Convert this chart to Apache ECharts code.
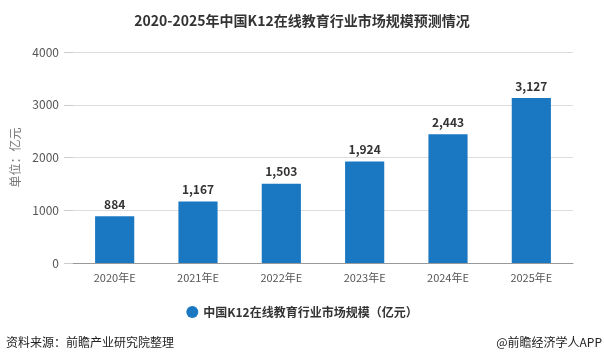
<!DOCTYPE html>
<html><head><meta charset="utf-8">
<script src="https://cdn.jsdelivr.net/npm/echarts@6/dist/echarts.min.js"></script>
<style>html,body{margin:0;padding:0;background:#fff}#c{width:604px;height:363px}</style>
</head><body><div id="c"></div>
<script>
var categories = ['2020年E','2021年E','2022年E','2023年E','2024年E','2025年E'];
var values = [884, 1167, 1503, 1924, 2443, 3127];
var yTicks = [0, 1000, 2000, 3000, 4000];
var seriesName = '中国K12在线教育行业市场规模（亿元）';
var titleText = '2020-2025年中国K12在线教育行业市场规模预测情况';
var sourceText = '资料来源：前瞻产业研究院整理';
var creditText = '@前瞻经济学人APP';
var unitText = '单位：亿元';

var chart = echarts.init(document.getElementById('c'));
var font = '"Microsoft YaHei","Noto Sans CJK SC",sans-serif';
chart.setOption({
  animation: false,
  textStyle: {fontFamily: font},
  title: {text: titleText, left: 'center', top: 9,
    textStyle: {fontSize: 14, fontWeight: 'bold', color: '#333', fontFamily: font}},
  grid: {left: 73, right: 31, top: 52, bottom: 100},
  legend: {data: [seriesName], bottom: 40, left: 'center', icon: 'circle', itemWidth: 12, itemHeight: 12,
    textStyle: {fontSize: 12, fontWeight: 'bold', color: '#333'}},
  xAxis: {type: 'category', data: categories,
    axisLine: {lineStyle: {color: '#999'}},
    axisTick: {alignWithLabel: true, lineStyle: {color: '#999'}},
    axisLabel: {color: '#555', fontSize: 11, margin: 9}},
  yAxis: {type: 'value', min: yTicks[0], max: yTicks[yTicks.length-1], interval: 1000,
    name: unitText, nameLocation: 'middle', nameGap: 44, nameRotate: 90,
    nameTextStyle: {color: '#777', fontSize: 12},
    axisLine: {show: false},
    axisTick: {show: true, length: 9, inside: false, lineStyle: {color: '#ccc'}},
    axisLabel: {color: '#555', fontSize: 12, margin: 14, formatter: function(v){return String(v);}},
    splitLine: {lineStyle: {color: '#ddd'}}},
  series: [{name: seriesName, type: 'bar', data: values, barWidth: '47%',
    itemStyle: {color: '#1a78c2'},
    label: {show: true, position: 'top', distance: 6, fontWeight: 'bold', fontSize: 12, color: '#333',
      formatter: function(p){return p.value.toLocaleString('en-US');}}}],
  graphic: [
    {type: 'text', left: 6, top: 336, style: {text: sourceText, fontSize: 12, fill: '#222', fontFamily: font}},
    {type: 'text', right: 2, top: 336, style: {text: creditText, fontSize: 12, fill: '#222', fontFamily: font}}
  ]
});
</script></body></html>
